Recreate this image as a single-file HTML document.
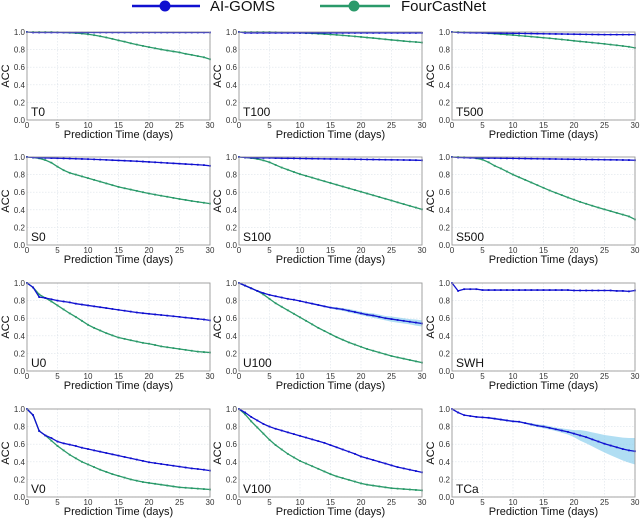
<!DOCTYPE html>
<html><head><meta charset="utf-8">
<style>
html,body{margin:0;padding:0;background:#fff;}
body{width:640px;height:519px;overflow:hidden;font-family:"Liberation Sans",sans-serif;}
svg text{font-family:"Liberation Sans",sans-serif;}
</style></head>
<body>
<svg id="chart" width="640" height="519" viewBox="0 0 640 519" xmlns="http://www.w3.org/2000/svg">
  <g>
    <g>
      <line x1="132" y1="6" x2="200" y2="6" stroke="#1010d0" stroke-width="2.5"/>
      <circle cx="165" cy="6" r="5.5" fill="#1010d0"/>
      <text x="210" y="11" font-size="15" fill="#111">AI-GOMS</text>
    </g>
    <g>
      <line x1="320" y1="6" x2="390" y2="6" stroke="#2a9a6a" stroke-width="2.5"/>
      <circle cx="354" cy="6" r="5.5" fill="#2a9a6a"/>
      <text x="401" y="11" font-size="15" fill="#111">FourCastNet</text>
    </g>
  </g>
</svg>
<script>
const days = [0,1,2,3,4,5,6,7,8,9,10,11,12,13,14,15,16,17,18,19,20,21,22,23,24,25,26,27,28,29,30];
const panelNames = ["T0","T100","T500","S0","S100","S500","U0","U100","SWH","V0","V100","TCa"];
const yTicks = [0.0,0.2,0.4,0.6,0.8,1.0];
const xTicks = [0,5,10,15,20,25,30];
const aiT0 = [1,.995,.995,.995,.995,.995,.995,.995,.995,.995,.995,.995,.995,.995,.995,.995,.995,.995,.995,.995,.995,.995,.995,.995,.995,.995,.995,.995,.995,.995,.995];
const fcT0 = [1,1,1,1,1,.998,.995,.992,.988,.982,.974,.964,.952,.938,.922,.905,.89,.872,.857,.842,.828,.815,.802,.79,.779,.768,.752,.74,.726,.713,.69];
const aiT100 = [1,.99,.99,.99,.99,.99,.99,.99,.99,.99,.99,.99,.99,.99,.99,.99,.99,.99,.99,.99,.99,.99,.99,.99,.99,.99,.99,.99,.99,.99,.99];
const fcT100 = [1,1,1,1,1,1,.998,.996,.994,.992,.99,.987,.984,.98,.976,.972,.967,.962,.956,.95,.944,.937,.931,.924,.917,.91,.904,.897,.891,.886,.88];
const aiT500 = [1,.995,.993,.992,.991,.99,.989,.988,.987,.986,.985,.984,.983,.982,.981,.98,.979,.978,.977,.976,.975,.974,.973,.972,.971,.97,.97,.97,.97,.97,.97];
const fcT500 = [1,1,.998,.996,.994,.99,.985,.98,.975,.97,.965,.959,.953,.947,.941,.935,.929,.922,.915,.908,.9,.893,.886,.879,.872,.865,.857,.849,.841,.832,.82];
const aiS0 = [1,.995,.992,.99,.988,.986,.984,.982,.98,.978,.976,.973,.97,.967,.964,.961,.958,.955,.952,.948,.944,.94,.936,.932,.928,.924,.92,.916,.912,.908,.9];
const fcS0 = [1,.995,.985,.965,.935,.89,.85,.82,.8,.78,.76,.74,.72,.7,.68,.66,.645,.63,.615,.6,.585,.572,.56,.548,.535,.523,.512,.5,.49,.48,.47];
const aiS100 = [1,.995,.992,.99,.99,.99,.988,.986,.985,.984,.983,.982,.981,.98,.979,.978,.977,.976,.975,.974,.973,.972,.971,.97,.969,.968,.967,.966,.965,.964,.962];
const fcS100 = [1,.995,.988,.978,.962,.94,.91,.88,.855,.83,.805,.785,.765,.745,.725,.705,.685,.665,.645,.625,.605,.585,.565,.545,.525,.505,.485,.465,.445,.425,.405];
const aiS500 = [1,.995,.993,.991,.99,.989,.988,.987,.986,.985,.984,.983,.982,.981,.98,.979,.978,.977,.976,.975,.974,.973,.972,.971,.97,.969,.968,.967,.966,.965,.963];
const fcS500 = [1,1,.998,.994,.985,.97,.94,.9,.87,.835,.8,.77,.74,.71,.68,.65,.62,.593,.567,.54,.515,.49,.468,.446,.425,.405,.385,.365,.345,.325,.29];
const aiU0 = [1,.95,.84,.83,.815,.8,.79,.78,.765,.755,.745,.735,.725,.715,.705,.695,.685,.675,.665,.657,.65,.643,.636,.629,.622,.615,.607,.6,.592,.585,.575];
const fcU0 = [1,.95,.87,.83,.79,.745,.7,.655,.615,.57,.525,.49,.46,.43,.405,.38,.365,.35,.335,.32,.31,.295,.28,.27,.26,.25,.24,.23,.22,.215,.21];
const aiU100 = [1,.97,.94,.91,.885,.865,.85,.835,.82,.81,.795,.78,.765,.75,.735,.72,.71,.7,.685,.67,.655,.64,.63,.615,.6,.59,.58,.57,.56,.55,.54];
const fcU100 = [1,.97,.94,.91,.87,.82,.77,.73,.69,.65,.61,.57,.53,.49,.455,.42,.385,.355,.325,.3,.275,.25,.23,.21,.19,.17,.155,.14,.125,.11,.095];
const aiSWH = [1,.91,.93,.93,.93,.92,.92,.92,.92,.92,.92,.92,.92,.92,.92,.92,.92,.92,.92,.92,.915,.915,.915,.915,.915,.915,.915,.91,.91,.905,.915];
const aiV0 = [1,.93,.75,.7,.67,.63,.61,.595,.58,.56,.545,.53,.515,.5,.485,.47,.455,.44,.425,.41,.395,.385,.375,.365,.355,.345,.335,.325,.318,.31,.3];
const fcV0 = [1,.93,.75,.7,.64,.58,.53,.48,.44,.4,.37,.34,.31,.285,.26,.24,.22,.2,.185,.17,.16,.15,.14,.13,.12,.11,.105,.1,.095,.09,.085];
const aiV100 = [1,.96,.91,.87,.83,.8,.775,.755,.735,.715,.695,.675,.655,.635,.615,.59,.565,.54,.515,.49,.46,.44,.42,.4,.38,.36,.34,.325,.31,.295,.28];
const fcV100 = [1,.94,.86,.79,.72,.65,.59,.54,.49,.45,.41,.38,.35,.32,.29,.26,.235,.215,.195,.175,.155,.14,.13,.12,.11,.1,.095,.09,.085,.08,.075];
const aiTCa = [1,.96,.93,.92,.91,.905,.9,.89,.88,.87,.86,.855,.84,.825,.81,.8,.785,.77,.755,.74,.72,.7,.68,.655,.63,.605,.585,.565,.545,.53,.52];
const bandTCa = [0,0,0,0,0,0,.01,.01,.01,.01,.01,.01,.01,.015,.015,.02,.02,.02,.025,.03,.04,.06,.07,.08,.09,.1,.11,.12,.13,.14,.15];
const bandU100 = [0,0,0,0,0,0,0,0,0,.005,.005,.005,.01,.01,.01,.01,.015,.015,.02,.02,.02,.02,.025,.025,.025,.03,.03,.03,.03,.035,.035];

const aiSeries = [aiT0,aiT100,aiT500,aiS0,aiS100,aiS500,aiU0,aiU100,aiSWH,aiV0,aiV100,aiTCa];
const fcSeries = [fcT0,fcT100,fcT500,fcS0,fcS100,fcS500,fcU0,fcU100,null,fcV0,fcV100,null];
const bands = [null,null,null,null,null,null,null,bandU100,null,null,null,bandTCa];

const NS = "http://www.w3.org/2000/svg";
const svg = document.getElementById('chart');
const colX = [27,239,452];
const rowY = [32,157,283,409];
const PW = 183, PH = 88;
function mk(tag, attrs, parent){const e=document.createElementNS(NS,tag);for(const k in attrs)e.setAttribute(k,attrs[k]);parent.appendChild(e);return e;}

panelNames.forEach((name,i)=>{
  const x0 = colX[i%3], y0 = rowY[Math.floor(i/3)];
  const sx = d => x0 + d/30*PW;
  const sy = v => y0 + PH - v*PH;
  const g = mk('g',{},svg);
  
  
  xTicks.forEach(t=>{
    const gl = mk('line',{x1:sx(t),x2:sx(t),y1:y0,y2:y0+PH,stroke:'#dde3ea','stroke-width':0.6,'stroke-dasharray':'1.5,1.5'},g);
    
    
    const tl = mk('text',{x:sx(t),y:y0+PH+8,'font-size':8,'text-anchor':'middle',fill:'#333'},g);
    tl.textContent = t;
    
    
  });
  yTicks.forEach(t=>{
    const gl = mk('line',{x1:x0,x2:x0+PW,y1:sy(t),y2:sy(t),stroke:'#dde3ea','stroke-width':0.6,'stroke-dasharray':'1.5,1.5'},g);
    
    
    const tl = mk('text',{x:x0-2,y:sy(t)+3,'font-size':8,'text-anchor':'end',fill:'#333'},g);
    tl.textContent = t.toFixed(1);
    
    
  });
  const band = bands[i];
  if(band){
    const ai = aiSeries[i];
    let d = days.map((dd,k)=>(k?'L':'M')+sx(dd)+','+sy(ai[k]+band[k])).join('');
    for(let k=days.length-1;k>=0;k--) d += 'L'+sx(days[k])+','+sy(ai[k]-band[k]);
    const p = mk('path',{d:d+'Z',fill:'#8fd0ee','fill-opacity':0.7},g);
    
    
  }
  [[fcSeries[i],'#2a9a6a','fourcastnet-line'],[aiSeries[i],'#1010d0','ai-goms-line']].forEach(([s,c,n])=>{
    if(!s) return;
    const pts = days.map((dd,k)=>sx(dd)+','+sy(s[k])).join(' ');
    const pl = mk('polyline',{points:pts,fill:'none',stroke:c,'stroke-width':1.3},g);
    
    
    days.forEach((dd,k)=>{
      const m = mk('rect',{x:sx(dd)-0.9,y:sy(s[k])-0.9,width:1.8,height:1.8,fill:c},g);
      
      
    });
  });
  const fr = mk('rect',{x:x0,y:y0,width:PW,height:PH,fill:'none',stroke:'#999','stroke-width':0.9},g);
  
  
  const lb = mk('text',{x:x0+4,y:y0+PH-4,'font-size':12,fill:'#111'},g);
  lb.textContent = name;
  
  
  const xt = mk('text',{x:x0+PW/2,y:y0+PH+18,'font-size':11,'text-anchor':'middle',fill:'#111'},g);
  xt.textContent = 'Prediction Time (days)';
  
  
  const yt = mk('text',{x:0,y:0,'font-size':11,'text-anchor':'middle',fill:'#111',transform:'translate('+(x0-18)+','+(y0+PH/2)+') rotate(-90)'},g);
  yt.textContent = 'ACC';
  
  
});
</script>
</body></html>
